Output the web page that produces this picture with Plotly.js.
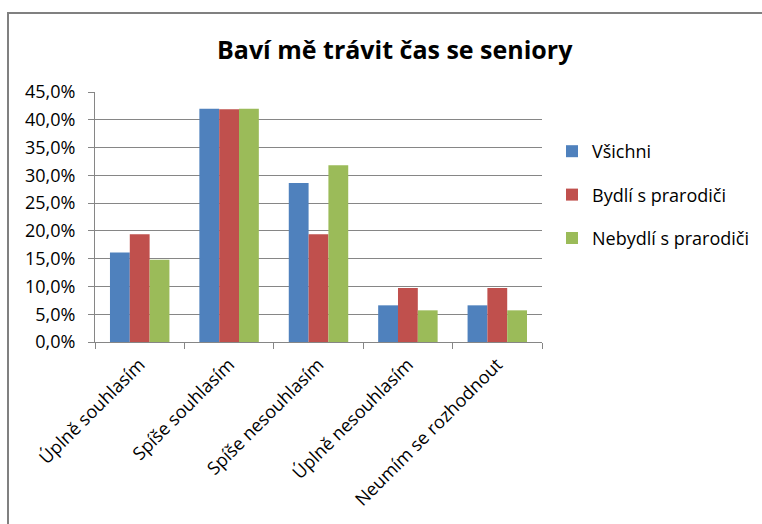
<!DOCTYPE html>
<html>
<head>
<meta charset="utf-8">
<script src="https://cdn.plot.ly/plotly-3.0.1.min.js"></script>
<style>
  html, body { margin: 0; padding: 0; background: #fff; }
  #wrap { position: relative; width: 762px; height: 524px; overflow: hidden; }
  #chart { position: absolute; left: 0; top: 0; width: 762px; height: 524px; }
  #frame { position: absolute; left: 7px; top: 12px; width: 800px; height: 600px;
           border-left: 2px solid #808080; border-top: 2px solid #808080; pointer-events: none; }
</style>
</head>
<body>
<div id="wrap">
  <div id="chart"></div>
  <div id="frame"></div>
</div>
<script>
const categories = ["Úplně souhlasím", "Spíše souhlasím", "Spíše nesouhlasím", "Úplně nesouhlasím", "Neumím se rozhodnout"];
const seriesNames = ["Všichni", "Bydlí s prarodiči", "Nebydlí s prarodiči"];
const vsichni = [16.1, 42.0, 28.6, 6.6, 6.6];
const bydli = [19.4, 41.9, 19.4, 9.7, 9.7];
const nebydli = [14.8, 42.0, 31.8, 5.7, 5.7];
const yTicks = [0, 5, 10, 15, 20, 25, 30, 35, 40, 45];

const colors = ["#4F81BD", "#C0504D", "#9BBB59"];
const values = [vsichni, bydli, nebydli];
const FONT = "'Open Sans', Lato, sans-serif";

const traces = seriesNames.map((name, i) => ({
  type: "bar",
  name: name,
  x: categories,
  y: values[i],
  marker: { color: colors[i], line: { width: 0 } },
  legendgroup: "g" + i,
  hoverinfo: "x+y+name"
}));

const layout = {
  width: 762,
  height: 524,
  margin: { l: 95, r: 220, t: 92, b: 182, autoexpand: false },
  paper_bgcolor: "#ffffff",
  plot_bgcolor: "#ffffff",
  font: { family: FONT, color: "#000000", size: 18 },
  separators: ", ",
  title: {
    text: "<b>Baví mě trávit čas se seniory</b>",
    font: { family: FONT, size: 25, color: "#000000" },
    xref: "container", yref: "container",
    x: 0.518, xanchor: "center",
    y: 1 - 50 / 524, yanchor: "middle"
  },
  barmode: "group",
  bargap: 0.335,
  bargroupgap: 0,
  xaxis: {
    type: "category",
    tickangle: -45,
    showline: true,
    linecolor: "#868686",
    linewidth: 1,
    ticks: "outside",
    tickson: "boundaries",
    ticklen: 6,
    tickcolor: "#868686",
    showgrid: false,
    ticklabelstandoff: 4,
    tickfont: { family: FONT, size: 18, color: "#000000" },
    automargin: false
  },
  yaxis: {
    range: [0, 45],
    tickvals: yTicks,
    ticktext: yTicks.map(v => v.toFixed(1).replace(".", ",") + "%"),
    showline: true,
    linecolor: "#868686",
    linewidth: 1,
    ticks: "outside",
    ticklen: 6,
    tickcolor: "#868686",
    showgrid: true,
    gridcolor: "#868686",
    gridwidth: 1,
    zeroline: false,
    ticklabelstandoff: 9,
    tickfont: { family: FONT, size: 18, color: "#000000" },
    automargin: false
  },
  legend: {
    x: (552 - 95) / 447,
    xanchor: "left",
    y: (342 - 133) / 250,
    yanchor: "top",
    font: { family: FONT, size: 18, color: "#000000" },
    tracegroupgap: 17,
    bgcolor: "rgba(0,0,0,0)",
    traceorder: "grouped"
  },
  showlegend: true
};

Plotly.newPlot("chart", traces, layout, { displayModeBar: false, staticPlot: true });
</script>
</body>
</html>
